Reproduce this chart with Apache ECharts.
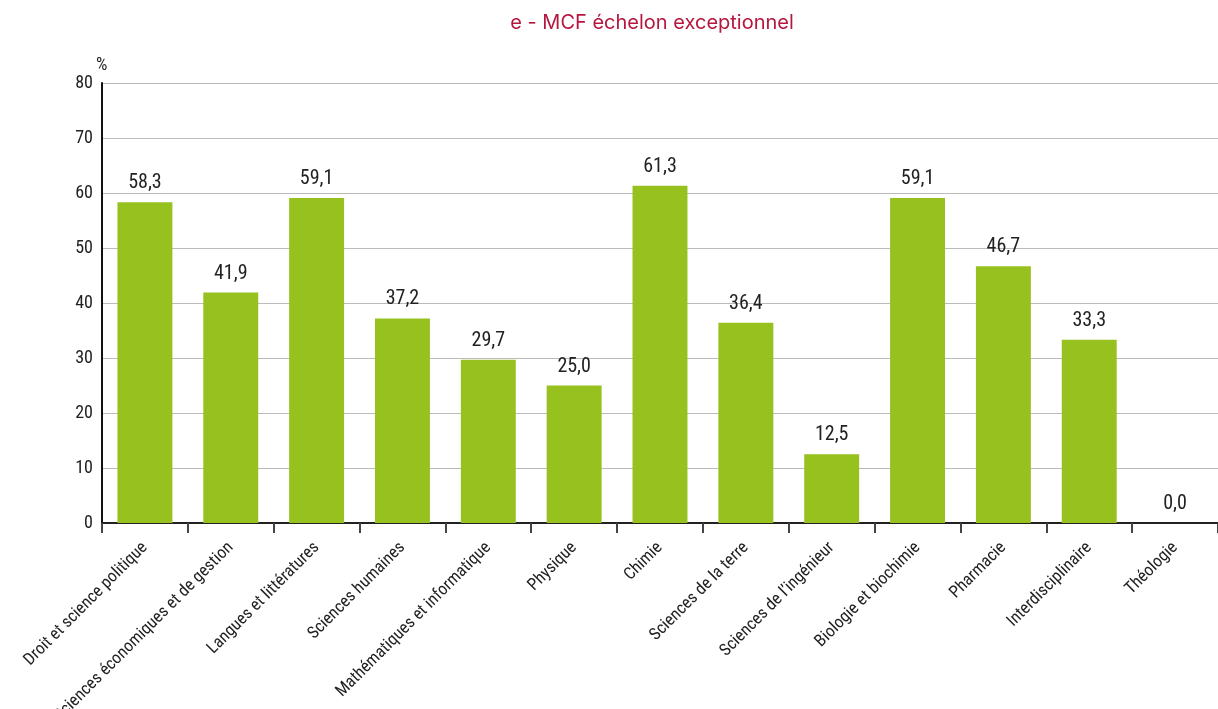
<!DOCTYPE html>
<html>
<head>
<meta charset="utf-8">
<script src="https://cdn.jsdelivr.net/npm/echarts@6/dist/echarts.min.js"></script>
<style>
  html, body { margin: 0; padding: 0; background: #fff; overflow: hidden; }
  #chart { width: 1218px; height: 709px; }
</style>
</head>
<body>
<div id="chart"></div>
<script>
// --- Données ---
const categories = [
    "Droit et science politique",
    "Sciences économiques et de gestion",
    "Langues et littératures",
    "Sciences humaines",
    "Mathématiques et informatique",
    "Physique",
    "Chimie",
    "Sciences de la terre",
    "Sciences de l’ingénieur",
    "Biologie et biochimie",
    "Pharmacie",
    "Interdisciplinaire",
    "Théologie"
];
const values = [58.3, 41.9, 59.1, 37.2, 29.7, 25.0, 61.3, 36.4, 12.5, 59.1, 46.7, 33.3, 0.0];
const yTicks = [0, 10, 20, 30, 40, 50, 60, 70, 80];

const fontFam = '"Roboto Condensed", "Liberation Sans Narrow", Roboto, sans-serif';
const green = '#96c11f';

const chart = echarts.init(document.getElementById('chart'));
chart.setOption({
    backgroundColor: '#fff',
    animation: false,
    title: {
        text: 'e - MCF échelon exceptionnel',
        left: 647,
        top: 8,
        textAlign: 'center',
        textStyle: { color: '#b5173f', fontSize: 20, fontWeight: 'normal', fontFamily: 'Inter, sans-serif' }
    },
    // hauteur fixe : 0 à y=523, 80 à y=83 (les libellés peuvent déborder en bas)
    grid: { left: 102, right: 0, top: 83, height: 440, containLabel: false, outerBoundsMode: 'none' },
    xAxis: {
        type: 'category',
        data: categories,
        axisLine: { lineStyle: { color: '#222', width: 2 } },
        axisTick: { show: true, length: 10, lineStyle: { color: '#444', width: 2 } },
        axisLabel: {
            rotate: 45,
            interval: 0,
            color: '#222',
            fontSize: 17,
            fontFamily: fontFam,
            margin: 22
        }
    },
    yAxis: {
        type: 'value',
        min: 0,
        max: 80,
        interval: 10,
        name: '%',
        nameGap: 6,
        nameTextStyle: { color: '#222', fontSize: 18, fontFamily: fontFam, align: 'left', padding: [0, 0, 0, -6] },
        axisLine: { show: true, lineStyle: { color: '#111', width: 2 } },
        axisTick: { show: false },
        axisLabel: {
            color: '#222', fontSize: 18, fontFamily: fontFam, margin: 9,
            formatter: v => yTicks.includes(v) ? String(v) : ''
        },
        splitLine: { lineStyle: { color: '#bbb', width: 1 } }
    },
    series: [{
        type: 'bar',
        data: values,
        barCategoryGap: '36%',
        itemStyle: { color: green },
        label: {
            show: true,
            position: 'top',
            distance: 9,
            color: '#222',
            fontSize: 20,
            fontFamily: fontFam,
            formatter: p => p.value.toFixed(1).replace('.', ',')
        }
    }]
});
</script>
</body>
</html>
